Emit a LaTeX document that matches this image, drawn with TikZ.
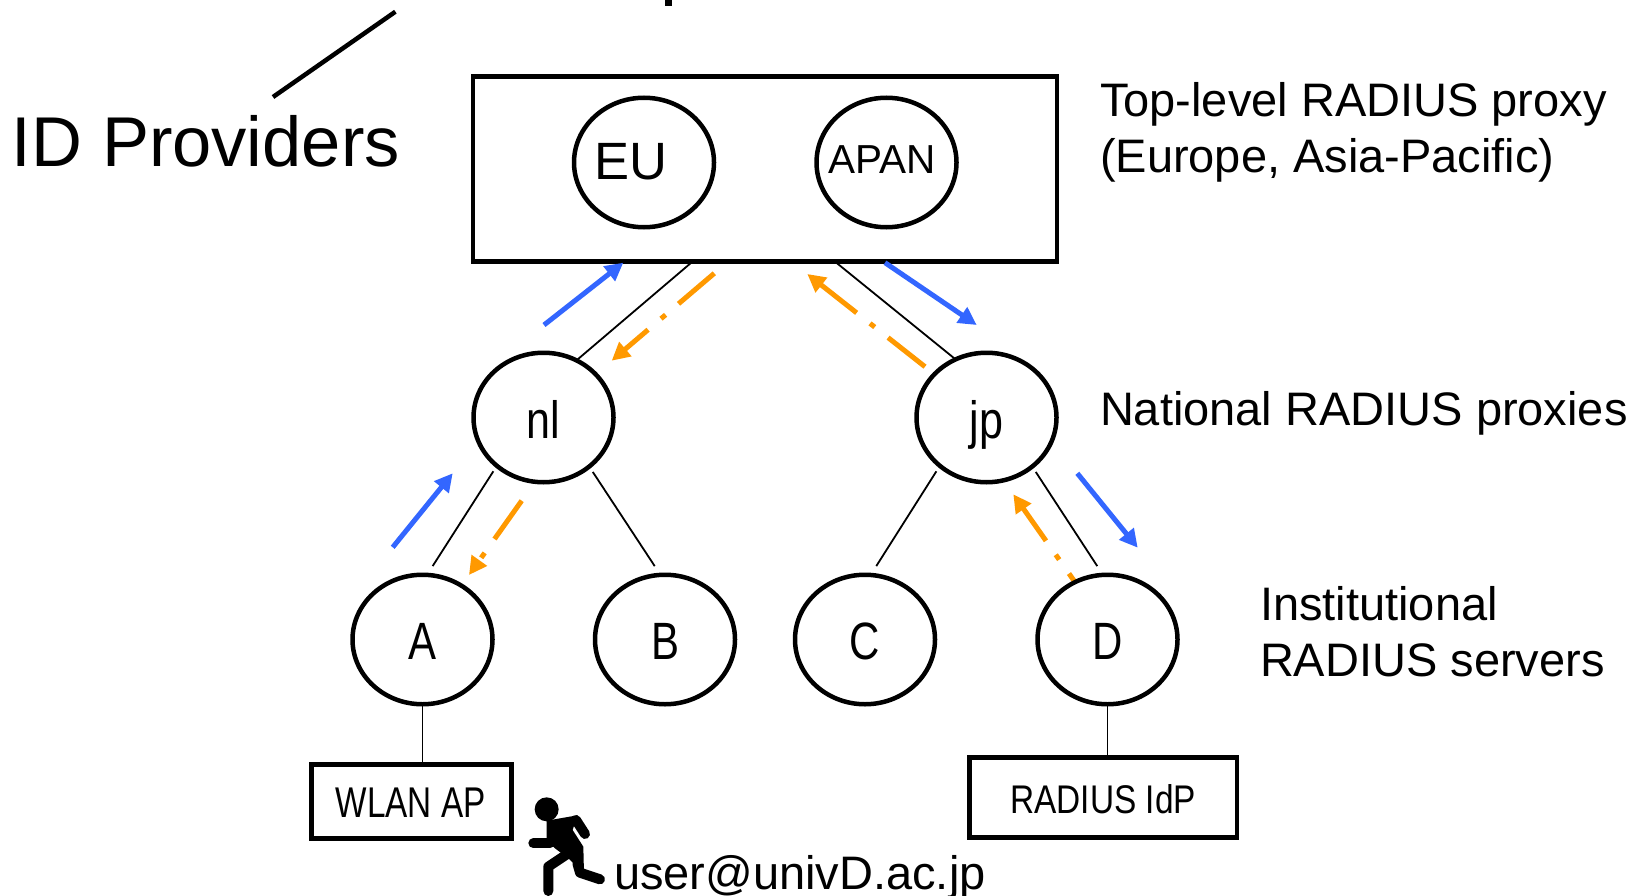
\documentclass[tikz,border=0pt]{standalone}
\usepackage{graphicx}
\usepackage{fontspec}
\setmainfont{Liberation Sans}
\usetikzlibrary{shapes.geometric,arrows.meta,backgrounds}
\newcommand{\sq}[2][.8]{\scalebox{#1}[1]{#2}}
% label placed by baseline: #1 = twice the x shift, #2 = drop of the baseline below the centre, #3 = text
\newcommand{\lab}[3]{\raisebox{-#2pt}[0pt][0pt]{\makebox[0pt][c]{\hspace*{#1pt}#3}}}
\definecolor{flowblue}{HTML}{3366FF}
\definecolor{floworange}{HTML}{FF9900}
\tikzset{
  hostnode/.style={draw,ellipse,line width=4.5pt,fill=white,inner sep=0pt,outer sep=0pt,minimum width=140pt,minimum height=129.5pt,font=\fontsize{52.5}{53}\selectfont},
  boxnode/.style={draw,rectangle,line width=4.5pt,inner sep=0pt,outer sep=0pt},
  link/.style={line width=1.8pt},
  caption/.style={inner sep=0pt,outer sep=0pt,font=\fontsize{47}{56}\selectfont,align=left,anchor=north west},
  reqarrow/.style={line width=5pt,flowblue,-{Triangle[length=18pt,width=18pt]}},
  resarrow/.style={line width=5pt,floworange,dash pattern=on 47pt off 17pt on 6pt off 17pt,-{Triangle[length=18pt,width=18pt]}},
  runner/.style={line width=10pt,line cap=round,line join=round}
}
\begin{document}
\begin{tikzpicture}[x=1pt,y=-1pt]
\useasboundingbox (0,0) rectangle (1632,896);
\clip (0,0) rectangle (1632,896);
% hierarchy nodes
\node[boxnode,minimum width=584pt,minimum height=184.5pt] (top) at (765,169) {};
\node[hostnode] (eu) at (644,162.5) {\lab{-26}{17.5}{EU}};
\node[hostnode,font=\fontsize{40.5}{42}\selectfont] (apan) at (886.5,162.5) {\lab{-9}{11.5}{APAN}};
\node[hostnode] (nl) at (543.5,417.5) {\lab{0}{21}{\sq[.82]{nl}}};
\node[hostnode] (jp) at (986.5,417.5) {\lab{0}{21}{\sq[.82]{jp}}};
\node[hostnode] (a) at (422.5,639.5) {\lab{0}{19.5}{\sq{A}}};
\node[hostnode] (b) at (665,639.5) {\lab{0}{19.5}{\sq{B}}};
\node[hostnode] (c) at (865,639.5) {\lab{0}{19.5}{\sq{C}}};
\node[hostnode] (d) at (1107.5,639.5) {\lab{0}{19.5}{\sq{D}}};
\node[boxnode,minimum width=200pt,minimum height=74pt,font=\fontsize{43}{43}\selectfont] (wlan) at (411.6,801.4) {\lab{-2}{15.8}{\sq[.775]{WLAN AP}}};
\node[boxnode,minimum width=267.3pt,minimum height=80pt,font=\fontsize{40}{40}\selectfont] (idp) at (1103.2,797.6) {\lab{0}{15.7}{\sq[.835]{RADIUS IdP}}};
% tree links
\draw[link] (top.232.1) -- (nl.60.6);
\draw[link] (top.307.9) -- (jp.118.3);
\draw[link,shorten <=6.5pt,shorten >=10.5pt] (nl.226.7) -- (a.86);
\draw[link,shorten <=6.5pt,shorten >=10.5pt] (nl.313.3) -- (b.94.4);
\draw[link,shorten <=6.5pt,shorten >=10.5pt] (jp.226.7) -- (c.85.6);
\draw[link,shorten <=6.5pt,shorten >=10.5pt] (jp.313.3) -- (d.94);
\draw[link] (a.south) -- (a.south |- wlan.north);
\draw[link] (d.south) -- (d.south |- idp.north);
% flow arrow end points
\coordinate (b1s) at (392.7,547.3); \coordinate (b1e) at (452.7,473.3);
\coordinate (b2s) at (544,325);     \coordinate (b2e) at (623.3,262.7);
\coordinate (b3s) at (885,262.7);   \coordinate (b3e) at (976.7,325);
\coordinate (b4s) at (1077.3,473.3);\coordinate (b4e) at (1137.7,547.7);
\coordinate (o1s) at (1096,612);    \coordinate (o1e) at (1013.3,494.3);
\coordinate (o2s) at (925,366.7);   \coordinate (o2e) at (807.3,274);
\coordinate (o3s) at (714.3,273.3); \coordinate (o3e) at (611.7,360.7);
\coordinate (o4s) at (521.7,500.7); \coordinate (o4e) at (469,575);
\draw[reqarrow] (b1s) -- (b1e);
\draw[reqarrow] (b2s) -- (b2e);
\draw[reqarrow] (b3s) -- (b3e);
\draw[reqarrow] (b4s) -- (b4e);
\begin{scope}[on background layer]
\draw[resarrow] (o1s) -- (o1e);
\end{scope}
\draw[resarrow] (o2s) -- (o2e);
\draw[resarrow] (o3s) -- (o3e);
\draw[resarrow] (o4s) -- (o4e);
% captions
\node[caption] (cap1) at (1100,82) {Top-level RADIUS proxy\\(Europe, Asia-Pacific)};
\node[caption,anchor=base west] (cap2) at (1100,425) {National RADIUS proxies};
\node[caption] (cap3) at (1260,586) {Institutional\\RADIUS servers};
\node[inner sep=0pt,outer sep=0pt,anchor=base west,font=\fontsize{70.5}{70}\selectfont] (idprov) at (12,167) {ID Providers};
\node[inner sep=0pt,outer sep=0pt,anchor=base west,font=\fontsize{47}{47}\selectfont] (user) at (614,889) {user@univD.ac.jp};
% cropped remains at the top
\draw[line width=4.5pt] (395.4,11.7) -- (273,97);
\fill (665,0) rectangle (672,6);
% runner
\begin{scope}[shift={(500,750)},x=0.3333pt,y=-0.3333pt]
\fill (140,178) circle (36);
\fill[line join=round] (140,212) -- (232,196) -- (218,240) -- (250,290) -- (252,370) -- (205,325) -- (165,295) -- (140,270) -- cycle;
\draw[runner] (228,210) -- (255,252);
\draw[runner] (150,280) -- (100,280);
\draw[runner] (205,310) -- (145,350) -- (145,423);
\draw[runner] (232,340) -- (240,368) -- (300,388);
\end{scope}
\end{tikzpicture}
\end{document}
